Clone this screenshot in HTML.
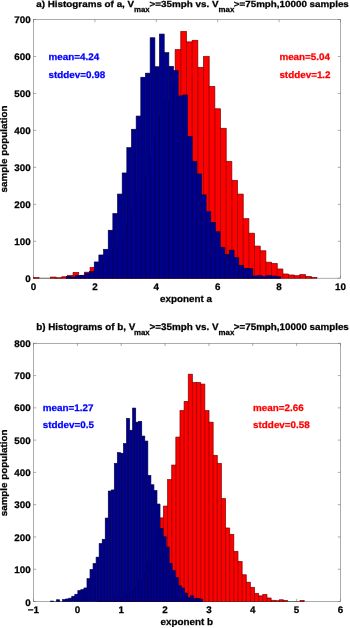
<!DOCTYPE html>
<html><head><meta charset="utf-8"><title>Histograms</title>
<style>html,body{margin:0;padding:0;background:#fff}svg{display:block}</style></head>
<body>
<svg width="350" height="628" viewBox="0 0 350 628" font-family="'Liberation Sans', sans-serif" font-weight="bold" text-rendering="geometricPrecision">
<rect width="350" height="628" fill="#fff"/>
<g stroke="#747474" stroke-width="0.6" fill="none"><rect x="33.5" y="19.5" width="307.0" height="258.7"/><path d="M33.50 278.2v-2.7M33.50 19.5v2.7"/><path d="M94.90 278.2v-2.7M94.90 19.5v2.7"/><path d="M156.30 278.2v-2.7M156.30 19.5v2.7"/><path d="M217.70 278.2v-2.7M217.70 19.5v2.7"/><path d="M279.10 278.2v-2.7M279.10 19.5v2.7"/><path d="M340.50 278.2v-2.7M340.50 19.5v2.7"/><path d="M33.5 278.20h2.7M340.5 278.20h-2.7"/><path d="M33.5 241.24h2.7M340.5 241.24h-2.7"/><path d="M33.5 204.29h2.7M340.5 204.29h-2.7"/><path d="M33.5 167.33h2.7M340.5 167.33h-2.7"/><path d="M33.5 130.37h2.7M340.5 130.37h-2.7"/><path d="M33.5 93.41h2.7M340.5 93.41h-2.7"/><path d="M33.5 56.46h2.7M340.5 56.46h-2.7"/><path d="M33.5 19.50h2.7M340.5 19.50h-2.7"/></g>
<g fill="#ff0000" stroke="#ff0000" stroke-width="0.5"><rect x="33.40" y="277.70" width="5.67" height="0.50"/><rect x="50.41" y="277.10" width="5.67" height="1.10"/><rect x="56.08" y="277.80" width="5.67" height="0.40"/><rect x="61.75" y="276.80" width="5.67" height="1.40"/><rect x="67.42" y="275.40" width="5.67" height="2.80"/><rect x="73.09" y="272.50" width="5.67" height="5.70"/><rect x="78.76" y="275.80" width="5.67" height="2.40"/><rect x="84.43" y="272.20" width="5.67" height="6.00"/><rect x="90.10" y="267.40" width="5.67" height="10.80"/><rect x="95.77" y="267.30" width="5.67" height="10.90"/><rect x="101.44" y="262.49" width="5.67" height="15.71"/><rect x="107.11" y="256.13" width="5.67" height="22.07"/><rect x="112.78" y="247.93" width="5.67" height="30.27"/><rect x="118.45" y="237.66" width="5.67" height="40.54"/><rect x="124.12" y="225.20" width="5.67" height="53.00"/><rect x="129.79" y="210.55" width="5.67" height="67.65"/><rect x="135.46" y="193.88" width="5.67" height="84.32"/><rect x="141.13" y="175.56" width="5.67" height="102.64"/><rect x="146.80" y="156.20" width="5.67" height="122.00"/><rect x="152.47" y="136.59" width="5.67" height="141.61"/><rect x="158.14" y="117.68" width="5.67" height="160.52"/><rect x="163.81" y="100.51" width="5.67" height="177.69"/><rect x="169.48" y="86.11" width="5.67" height="192.09"/><rect x="175.15" y="49.60" width="5.67" height="228.60"/><rect x="180.82" y="31.40" width="5.67" height="246.80"/><rect x="186.49" y="41.90" width="5.67" height="236.30"/><rect x="192.16" y="40.30" width="5.67" height="237.90"/><rect x="197.83" y="67.40" width="5.67" height="210.80"/><rect x="203.50" y="56.40" width="5.67" height="221.80"/><rect x="209.17" y="86.50" width="5.67" height="191.70"/><rect x="214.84" y="108.80" width="5.67" height="169.40"/><rect x="220.51" y="128.30" width="5.67" height="149.90"/><rect x="226.18" y="161.40" width="5.67" height="116.80"/><rect x="231.85" y="180.40" width="5.67" height="97.80"/><rect x="237.52" y="194.10" width="5.67" height="84.10"/><rect x="243.19" y="218.70" width="5.67" height="59.50"/><rect x="248.86" y="233.20" width="5.67" height="45.00"/><rect x="254.53" y="246.10" width="5.67" height="32.10"/><rect x="260.20" y="250.80" width="5.67" height="27.40"/><rect x="265.87" y="262.20" width="5.67" height="16.00"/><rect x="271.54" y="263.50" width="5.67" height="14.70"/><rect x="277.21" y="269.00" width="5.67" height="9.20"/><rect x="282.88" y="274.00" width="5.67" height="4.20"/><rect x="288.55" y="275.00" width="5.67" height="3.20"/><rect x="294.22" y="275.70" width="5.67" height="2.50"/><rect x="299.89" y="274.60" width="5.67" height="3.60"/><rect x="305.56" y="276.50" width="5.67" height="1.70"/><rect x="311.23" y="277.50" width="5.67" height="0.70"/></g><path d="M33.40 278.20V277.70M33.40 277.70h5.67M39.07 278.20V277.70M50.41 278.20V277.10M50.41 277.10h5.67M56.08 278.20V277.10M56.08 277.80h5.67M61.75 278.20V276.80M61.75 276.80h5.67M67.42 278.20V275.40M67.42 275.40h5.67M73.09 278.20V272.50M73.09 272.50h5.67M78.76 278.20V272.50M78.76 275.80h5.67M84.43 278.20V272.20M84.43 272.20h5.67M90.10 278.20V267.40M90.10 267.40h5.67M95.77 278.20V267.30M95.77 267.30h5.67M101.44 278.20V262.49M101.44 262.49h5.67M107.11 278.20V256.13M107.11 256.13h5.67M112.78 278.20V247.93M112.78 247.93h5.67M118.45 278.20V237.66M118.45 237.66h5.67M124.12 278.20V225.20M124.12 225.20h5.67M129.79 278.20V210.55M129.79 210.55h5.67M135.46 278.20V193.88M135.46 193.88h5.67M141.13 278.20V175.56M141.13 175.56h5.67M146.80 278.20V156.20M146.80 156.20h5.67M152.47 278.20V136.59M152.47 136.59h5.67M158.14 278.20V117.68M158.14 117.68h5.67M163.81 278.20V100.51M163.81 100.51h5.67M169.48 278.20V86.11M169.48 86.11h5.67M175.15 278.20V49.60M175.15 49.60h5.67M180.82 278.20V31.40M180.82 31.40h5.67M186.49 278.20V31.40M186.49 41.90h5.67M192.16 278.20V40.30M192.16 40.30h5.67M197.83 278.20V40.30M197.83 67.40h5.67M203.50 278.20V56.40M203.50 56.40h5.67M209.17 278.20V56.40M209.17 86.50h5.67M214.84 278.20V86.50M214.84 108.80h5.67M220.51 278.20V108.80M220.51 128.30h5.67M226.18 278.20V128.30M226.18 161.40h5.67M231.85 278.20V161.40M231.85 180.40h5.67M237.52 278.20V180.40M237.52 194.10h5.67M243.19 278.20V194.10M243.19 218.70h5.67M248.86 278.20V218.70M248.86 233.20h5.67M254.53 278.20V233.20M254.53 246.10h5.67M260.20 278.20V246.10M260.20 250.80h5.67M265.87 278.20V250.80M265.87 262.20h5.67M271.54 278.20V262.20M271.54 263.50h5.67M277.21 278.20V263.50M277.21 269.00h5.67M282.88 278.20V269.00M282.88 274.00h5.67M288.55 278.20V274.00M288.55 275.00h5.67M294.22 278.20V275.00M294.22 275.70h5.67M299.89 278.20V274.60M299.89 274.60h5.67M305.56 278.20V274.60M305.56 276.50h5.67M311.23 278.20V276.50M311.23 277.50h5.67M316.90 278.20V277.50M33.40 278.20H316.90" fill="none" stroke="#000" stroke-width="0.38"/>
<g fill="#00008f" stroke="#00008f" stroke-width="0.5"><rect x="66.30" y="276.60" width="4.66" height="1.60"/><rect x="70.96" y="277.10" width="4.66" height="1.10"/><rect x="75.62" y="275.70" width="4.66" height="2.50"/><rect x="80.28" y="275.30" width="4.66" height="2.90"/><rect x="84.94" y="273.20" width="4.66" height="5.00"/><rect x="89.60" y="271.70" width="4.66" height="6.50"/><rect x="94.26" y="262.00" width="4.66" height="16.20"/><rect x="98.92" y="255.00" width="4.66" height="23.20"/><rect x="103.58" y="249.40" width="4.66" height="28.80"/><rect x="108.24" y="230.30" width="4.66" height="47.90"/><rect x="112.90" y="213.60" width="4.66" height="64.60"/><rect x="117.56" y="194.10" width="4.66" height="84.10"/><rect x="122.22" y="173.00" width="4.66" height="105.20"/><rect x="126.88" y="147.70" width="4.66" height="130.50"/><rect x="131.54" y="129.30" width="4.66" height="148.90"/><rect x="136.20" y="116.10" width="4.66" height="162.10"/><rect x="140.86" y="77.30" width="4.66" height="200.90"/><rect x="145.52" y="73.20" width="4.66" height="205.00"/><rect x="150.18" y="37.80" width="4.66" height="240.40"/><rect x="154.84" y="66.80" width="4.66" height="211.40"/><rect x="159.50" y="34.10" width="4.66" height="244.10"/><rect x="164.16" y="52.70" width="4.66" height="225.50"/><rect x="168.82" y="66.40" width="4.66" height="211.80"/><rect x="173.48" y="70.70" width="4.66" height="207.50"/><rect x="178.14" y="96.00" width="4.66" height="182.20"/><rect x="182.80" y="95.00" width="4.66" height="183.20"/><rect x="187.46" y="136.60" width="4.66" height="141.60"/><rect x="192.12" y="161.40" width="4.66" height="116.80"/><rect x="196.78" y="174.00" width="4.66" height="104.20"/><rect x="201.44" y="194.90" width="4.66" height="83.30"/><rect x="206.10" y="211.70" width="4.66" height="66.50"/><rect x="210.76" y="222.50" width="4.66" height="55.70"/><rect x="215.42" y="231.80" width="4.66" height="46.40"/><rect x="220.08" y="247.30" width="4.66" height="30.90"/><rect x="224.74" y="254.60" width="4.66" height="23.60"/><rect x="229.40" y="250.20" width="4.66" height="28.00"/><rect x="234.06" y="257.70" width="4.66" height="20.50"/><rect x="238.72" y="265.30" width="4.66" height="12.90"/><rect x="243.38" y="268.40" width="4.66" height="9.80"/><rect x="248.04" y="268.60" width="4.66" height="9.60"/><rect x="252.70" y="276.10" width="4.66" height="2.10"/><rect x="257.36" y="275.70" width="4.66" height="2.50"/><rect x="262.02" y="276.70" width="4.66" height="1.50"/><rect x="266.68" y="275.70" width="4.66" height="2.50"/><rect x="271.34" y="276.10" width="4.66" height="2.10"/><rect x="276.00" y="276.80" width="4.66" height="1.40"/></g><path d="M66.30 278.20V276.60M66.30 276.60h4.66M70.96 278.20V276.60M70.96 277.10h4.66M75.62 278.20V275.70M75.62 275.70h4.66M80.28 278.20V275.30M80.28 275.30h4.66M84.94 278.20V273.20M84.94 273.20h4.66M89.60 278.20V271.70M89.60 271.70h4.66M94.26 278.20V262.00M94.26 262.00h4.66M98.92 278.20V255.00M98.92 255.00h4.66M103.58 278.20V249.40M103.58 249.40h4.66M108.24 278.20V230.30M108.24 230.30h4.66M112.90 278.20V213.60M112.90 213.60h4.66M117.56 278.20V194.10M117.56 194.10h4.66M122.22 278.20V173.00M122.22 173.00h4.66M126.88 278.20V147.70M126.88 147.70h4.66M131.54 278.20V129.30M131.54 129.30h4.66M136.20 278.20V116.10M136.20 116.10h4.66M140.86 278.20V77.30M140.86 77.30h4.66M145.52 278.20V73.20M145.52 73.20h4.66M150.18 278.20V37.80M150.18 37.80h4.66M154.84 278.20V37.80M154.84 66.80h4.66M159.50 278.20V34.10M159.50 34.10h4.66M164.16 278.20V34.10M164.16 52.70h4.66M168.82 278.20V52.70M168.82 66.40h4.66M173.48 278.20V66.40M173.48 70.70h4.66M178.14 278.20V70.70M178.14 96.00h4.66M182.80 278.20V95.00M182.80 95.00h4.66M187.46 278.20V95.00M187.46 136.60h4.66M192.12 278.20V136.60M192.12 161.40h4.66M196.78 278.20V161.40M196.78 174.00h4.66M201.44 278.20V174.00M201.44 194.90h4.66M206.10 278.20V194.90M206.10 211.70h4.66M210.76 278.20V211.70M210.76 222.50h4.66M215.42 278.20V222.50M215.42 231.80h4.66M220.08 278.20V231.80M220.08 247.30h4.66M224.74 278.20V247.30M224.74 254.60h4.66M229.40 278.20V250.20M229.40 250.20h4.66M234.06 278.20V250.20M234.06 257.70h4.66M238.72 278.20V257.70M238.72 265.30h4.66M243.38 278.20V265.30M243.38 268.40h4.66M248.04 278.20V268.40M248.04 268.60h4.66M252.70 278.20V268.60M252.70 276.10h4.66M257.36 278.20V275.70M257.36 275.70h4.66M262.02 278.20V275.70M262.02 276.70h4.66M266.68 278.20V275.70M266.68 275.70h4.66M271.34 278.20V275.70M271.34 276.10h4.66M276.00 278.20V276.10M276.00 276.80h4.66M280.66 278.20V276.80M66.30 278.20H280.66" fill="none" stroke="#000" stroke-width="0.38"/>
<text x="33.5" y="289.6" text-anchor="middle" fill="#000" stroke="#000" stroke-width="0.25" font-size="9.5" textLength="5.48" lengthAdjust="spacingAndGlyphs">0</text>
<text x="94.9" y="289.6" text-anchor="middle" fill="#000" stroke="#000" stroke-width="0.25" font-size="9.5" textLength="5.48" lengthAdjust="spacingAndGlyphs">2</text>
<text x="156.3" y="289.6" text-anchor="middle" fill="#000" stroke="#000" stroke-width="0.25" font-size="9.5" textLength="5.48" lengthAdjust="spacingAndGlyphs">4</text>
<text x="217.7" y="289.6" text-anchor="middle" fill="#000" stroke="#000" stroke-width="0.25" font-size="9.5" textLength="5.48" lengthAdjust="spacingAndGlyphs">6</text>
<text x="279.1" y="289.6" text-anchor="middle" fill="#000" stroke="#000" stroke-width="0.25" font-size="9.5" textLength="5.48" lengthAdjust="spacingAndGlyphs">8</text>
<text x="340.5" y="289.6" text-anchor="middle" fill="#000" stroke="#000" stroke-width="0.25" font-size="9.5" textLength="10.95" lengthAdjust="spacingAndGlyphs">10</text>
<text x="30.8" y="282.2" text-anchor="end" fill="#000" stroke="#000" stroke-width="0.25" font-size="9.5" textLength="5.48" lengthAdjust="spacingAndGlyphs">0</text>
<text x="30.8" y="244.7" text-anchor="end" fill="#000" stroke="#000" stroke-width="0.25" font-size="9.5" textLength="16.43" lengthAdjust="spacingAndGlyphs">100</text>
<text x="30.8" y="207.8" text-anchor="end" fill="#000" stroke="#000" stroke-width="0.25" font-size="9.5" textLength="16.43" lengthAdjust="spacingAndGlyphs">200</text>
<text x="30.8" y="170.8" text-anchor="end" fill="#000" stroke="#000" stroke-width="0.25" font-size="9.5" textLength="16.43" lengthAdjust="spacingAndGlyphs">300</text>
<text x="30.8" y="133.9" text-anchor="end" fill="#000" stroke="#000" stroke-width="0.25" font-size="9.5" textLength="16.43" lengthAdjust="spacingAndGlyphs">400</text>
<text x="30.8" y="96.9" text-anchor="end" fill="#000" stroke="#000" stroke-width="0.25" font-size="9.5" textLength="16.43" lengthAdjust="spacingAndGlyphs">500</text>
<text x="30.8" y="60.0" text-anchor="end" fill="#000" stroke="#000" stroke-width="0.25" font-size="9.5" textLength="16.43" lengthAdjust="spacingAndGlyphs">600</text>
<text x="30.8" y="23.0" text-anchor="end" fill="#000" stroke="#000" stroke-width="0.25" font-size="9.5" textLength="16.43" lengthAdjust="spacingAndGlyphs">700</text>
<text x="186" y="302" text-anchor="middle" fill="#000" stroke="#000" stroke-width="0.25" font-size="9.5" textLength="52.0" lengthAdjust="spacingAndGlyphs">exponent a</text>
<text transform="translate(7.3,149) rotate(-90)" text-anchor="middle" font-size="9.4" stroke="#000" stroke-width="0.25" textLength="86.8" lengthAdjust="spacingAndGlyphs">sample population</text>
<text x="48.5" y="59.9" text-anchor="start" fill="#0000ff" stroke="#0000ff" stroke-width="0.25" font-size="9.5" textLength="50.65" lengthAdjust="spacingAndGlyphs">mean=4.24</text>
<text x="48.5" y="78.1" text-anchor="start" fill="#0000ff" stroke="#0000ff" stroke-width="0.25" font-size="9.5" textLength="56.67" lengthAdjust="spacingAndGlyphs">stddev=0.98</text>
<text x="279.4" y="59.9" text-anchor="start" fill="#ff0000" stroke="#ff0000" stroke-width="0.25" font-size="9.5" textLength="50.65" lengthAdjust="spacingAndGlyphs">mean=5.04</text>
<text x="279.4" y="78.1" text-anchor="start" fill="#ff0000" stroke="#ff0000" stroke-width="0.25" font-size="9.5" textLength="51.19" lengthAdjust="spacingAndGlyphs">stddev=1.2</text>
<text x="36.2" y="7.0" text-anchor="start" fill="#000" stroke="#000" stroke-width="0.25" font-size="8.8" textLength="97.98" lengthAdjust="spacingAndGlyphs">a) Histograms of a, V</text><text x="133.9" y="11.9" text-anchor="start" fill="#000" stroke="#000" stroke-width="0.25" font-size="7.6" textLength="15.77" lengthAdjust="spacingAndGlyphs">max</text><text x="149.6" y="7.0" text-anchor="start" fill="#000" stroke="#000" stroke-width="0.25" font-size="8.8" textLength="68.99" lengthAdjust="spacingAndGlyphs">&gt;=35mph vs. V</text><text x="218.6" y="11.9" text-anchor="start" fill="#000" stroke="#000" stroke-width="0.25" font-size="7.6" textLength="15.77" lengthAdjust="spacingAndGlyphs">max</text><text x="233.8" y="7.0" text-anchor="start" fill="#000" stroke="#000" stroke-width="0.25" font-size="8.8" textLength="115.0" lengthAdjust="spacingAndGlyphs">&gt;=75mph,10000 samples</text>
<g stroke="#747474" stroke-width="0.6" fill="none"><rect x="33.5" y="343.3" width="307.0" height="258.2"/><path d="M33.50 601.5v-2.7M33.50 343.3v2.7"/><path d="M77.36 601.5v-2.7M77.36 343.3v2.7"/><path d="M121.21 601.5v-2.7M121.21 343.3v2.7"/><path d="M165.07 601.5v-2.7M165.07 343.3v2.7"/><path d="M208.93 601.5v-2.7M208.93 343.3v2.7"/><path d="M252.79 601.5v-2.7M252.79 343.3v2.7"/><path d="M296.64 601.5v-2.7M296.64 343.3v2.7"/><path d="M340.50 601.5v-2.7M340.50 343.3v2.7"/><path d="M33.5 601.50h2.7M340.5 601.50h-2.7"/><path d="M33.5 569.23h2.7M340.5 569.23h-2.7"/><path d="M33.5 536.95h2.7M340.5 536.95h-2.7"/><path d="M33.5 504.68h2.7M340.5 504.68h-2.7"/><path d="M33.5 472.40h2.7M340.5 472.40h-2.7"/><path d="M33.5 440.12h2.7M340.5 440.12h-2.7"/><path d="M33.5 407.85h2.7M340.5 407.85h-2.7"/><path d="M33.5 375.58h2.7M340.5 375.58h-2.7"/><path d="M33.5 343.30h2.7M340.5 343.30h-2.7"/></g>
<g fill="#ff0000" stroke="#ff0000" stroke-width="0.5"><rect x="97.20" y="601.31" width="4.14" height="0.19"/><rect x="101.34" y="601.16" width="4.14" height="0.34"/><rect x="105.48" y="600.91" width="4.14" height="0.59"/><rect x="109.62" y="600.49" width="4.14" height="1.01"/><rect x="113.76" y="599.81" width="4.14" height="1.69"/><rect x="117.90" y="598.74" width="4.14" height="2.76"/><rect x="122.04" y="597.14" width="4.14" height="4.36"/><rect x="126.18" y="594.77" width="4.14" height="6.73"/><rect x="130.32" y="591.39" width="4.14" height="10.11"/><rect x="134.46" y="586.71" width="4.14" height="14.79"/><rect x="138.60" y="580.42" width="4.14" height="21.08"/><rect x="142.74" y="572.26" width="4.14" height="29.24"/><rect x="146.88" y="561.99" width="4.14" height="39.51"/><rect x="151.02" y="549.51" width="4.14" height="51.99"/><rect x="155.16" y="534.87" width="4.14" height="66.63"/><rect x="159.30" y="517.90" width="4.14" height="83.60"/><rect x="163.44" y="506.10" width="4.14" height="95.40"/><rect x="167.58" y="479.60" width="4.14" height="121.90"/><rect x="171.72" y="465.10" width="4.14" height="136.40"/><rect x="175.86" y="437.10" width="4.14" height="164.40"/><rect x="180.00" y="410.60" width="4.14" height="190.90"/><rect x="184.14" y="401.50" width="4.14" height="200.00"/><rect x="188.28" y="374.20" width="4.14" height="227.30"/><rect x="192.42" y="382.50" width="4.14" height="219.00"/><rect x="196.56" y="382.50" width="4.14" height="219.00"/><rect x="200.70" y="384.10" width="4.14" height="217.40"/><rect x="204.84" y="410.60" width="4.14" height="190.90"/><rect x="208.98" y="422.20" width="4.14" height="179.30"/><rect x="213.12" y="455.40" width="4.14" height="146.10"/><rect x="217.26" y="463.40" width="4.14" height="138.10"/><rect x="221.40" y="498.60" width="4.14" height="102.90"/><rect x="225.54" y="528.00" width="4.14" height="73.50"/><rect x="229.68" y="534.40" width="4.14" height="67.10"/><rect x="233.82" y="551.40" width="4.14" height="50.10"/><rect x="237.96" y="561.50" width="4.14" height="40.00"/><rect x="242.10" y="574.80" width="4.14" height="26.70"/><rect x="246.24" y="582.20" width="4.14" height="19.30"/><rect x="250.38" y="587.40" width="4.14" height="14.10"/><rect x="254.52" y="593.40" width="4.14" height="8.10"/><rect x="258.66" y="595.90" width="4.14" height="5.60"/><rect x="262.80" y="594.50" width="4.14" height="7.00"/><rect x="266.94" y="598.00" width="4.14" height="3.50"/><rect x="271.08" y="600.30" width="4.14" height="1.20"/><rect x="275.22" y="600.70" width="4.14" height="0.80"/><rect x="279.36" y="599.80" width="4.14" height="1.70"/><rect x="283.50" y="600.50" width="4.14" height="1.00"/><rect x="300.06" y="600.50" width="4.14" height="1.00"/></g><path d="M97.20 601.50V601.31M97.20 601.31h4.14M101.34 601.50V601.16M101.34 601.16h4.14M105.48 601.50V600.91M105.48 600.91h4.14M109.62 601.50V600.49M109.62 600.49h4.14M113.76 601.50V599.81M113.76 599.81h4.14M117.90 601.50V598.74M117.90 598.74h4.14M122.04 601.50V597.14M122.04 597.14h4.14M126.18 601.50V594.77M126.18 594.77h4.14M130.32 601.50V591.39M130.32 591.39h4.14M134.46 601.50V586.71M134.46 586.71h4.14M138.60 601.50V580.42M138.60 580.42h4.14M142.74 601.50V572.26M142.74 572.26h4.14M146.88 601.50V561.99M146.88 561.99h4.14M151.02 601.50V549.51M151.02 549.51h4.14M155.16 601.50V534.87M155.16 534.87h4.14M159.30 601.50V517.90M159.30 517.90h4.14M163.44 601.50V506.10M163.44 506.10h4.14M167.58 601.50V479.60M167.58 479.60h4.14M171.72 601.50V465.10M171.72 465.10h4.14M175.86 601.50V437.10M175.86 437.10h4.14M180.00 601.50V410.60M180.00 410.60h4.14M184.14 601.50V401.50M184.14 401.50h4.14M188.28 601.50V374.20M188.28 374.20h4.14M192.42 601.50V374.20M192.42 382.50h4.14M196.56 601.50V382.50M196.56 382.50h4.14M200.70 601.50V382.50M200.70 384.10h4.14M204.84 601.50V384.10M204.84 410.60h4.14M208.98 601.50V410.60M208.98 422.20h4.14M213.12 601.50V422.20M213.12 455.40h4.14M217.26 601.50V455.40M217.26 463.40h4.14M221.40 601.50V463.40M221.40 498.60h4.14M225.54 601.50V498.60M225.54 528.00h4.14M229.68 601.50V528.00M229.68 534.40h4.14M233.82 601.50V534.40M233.82 551.40h4.14M237.96 601.50V551.40M237.96 561.50h4.14M242.10 601.50V561.50M242.10 574.80h4.14M246.24 601.50V574.80M246.24 582.20h4.14M250.38 601.50V582.20M250.38 587.40h4.14M254.52 601.50V587.40M254.52 593.40h4.14M258.66 601.50V593.40M258.66 595.90h4.14M262.80 601.50V594.50M262.80 594.50h4.14M266.94 601.50V594.50M266.94 598.00h4.14M271.08 601.50V598.00M271.08 600.30h4.14M275.22 601.50V600.30M275.22 600.70h4.14M279.36 601.50V599.80M279.36 599.80h4.14M283.50 601.50V599.80M283.50 600.50h4.14M287.64 601.50V600.50M300.06 601.50V600.50M300.06 600.50h4.14M304.20 601.50V600.50M97.20 601.50H304.20" fill="none" stroke="#000" stroke-width="0.38"/>
<g fill="#00008f" stroke="#00008f" stroke-width="0.5"><rect x="50.54" y="601.10" width="3.04" height="0.40"/><rect x="56.62" y="599.80" width="3.04" height="1.70"/><rect x="62.70" y="599.60" width="3.04" height="1.90"/><rect x="65.74" y="599.00" width="3.04" height="2.50"/><rect x="68.78" y="598.20" width="3.04" height="3.30"/><rect x="71.82" y="596.30" width="3.04" height="5.20"/><rect x="74.86" y="594.30" width="3.04" height="7.20"/><rect x="77.90" y="590.70" width="3.04" height="10.80"/><rect x="80.94" y="589.70" width="3.04" height="11.80"/><rect x="83.98" y="588.00" width="3.04" height="13.50"/><rect x="87.02" y="578.70" width="3.04" height="22.80"/><rect x="90.06" y="569.60" width="3.04" height="31.90"/><rect x="93.10" y="563.60" width="3.04" height="37.90"/><rect x="96.14" y="557.20" width="3.04" height="44.30"/><rect x="99.18" y="543.70" width="3.04" height="57.80"/><rect x="102.22" y="539.40" width="3.04" height="62.10"/><rect x="105.26" y="518.10" width="3.04" height="83.40"/><rect x="108.30" y="491.10" width="3.04" height="110.40"/><rect x="111.34" y="490.00" width="3.04" height="111.50"/><rect x="114.38" y="463.40" width="3.04" height="138.10"/><rect x="117.42" y="452.70" width="3.04" height="148.80"/><rect x="120.46" y="453.30" width="3.04" height="148.20"/><rect x="123.50" y="443.60" width="3.04" height="157.90"/><rect x="126.54" y="418.50" width="3.04" height="183.00"/><rect x="129.58" y="430.30" width="3.04" height="171.20"/><rect x="132.62" y="408.10" width="3.04" height="193.40"/><rect x="135.66" y="422.20" width="3.04" height="179.30"/><rect x="138.70" y="421.40" width="3.04" height="180.10"/><rect x="141.74" y="436.10" width="3.04" height="165.40"/><rect x="144.78" y="441.10" width="3.04" height="160.40"/><rect x="147.82" y="475.50" width="3.04" height="126.00"/><rect x="150.86" y="484.80" width="3.04" height="116.70"/><rect x="153.90" y="490.60" width="3.04" height="110.90"/><rect x="156.94" y="504.10" width="3.04" height="97.40"/><rect x="159.98" y="528.50" width="3.04" height="73.00"/><rect x="163.02" y="536.80" width="3.04" height="64.70"/><rect x="166.06" y="547.10" width="3.04" height="54.40"/><rect x="169.10" y="563.50" width="3.04" height="38.00"/><rect x="172.14" y="570.70" width="3.04" height="30.80"/><rect x="175.18" y="577.60" width="3.04" height="23.90"/><rect x="178.22" y="585.80" width="3.04" height="15.70"/><rect x="181.26" y="588.10" width="3.04" height="13.40"/><rect x="184.30" y="593.10" width="3.04" height="8.40"/><rect x="187.34" y="597.80" width="3.04" height="3.70"/><rect x="190.38" y="595.80" width="3.04" height="5.70"/><rect x="193.42" y="598.30" width="3.04" height="3.20"/><rect x="196.46" y="598.50" width="3.04" height="3.00"/><rect x="199.50" y="599.10" width="3.04" height="2.40"/></g><path d="M50.54 601.50V601.10M50.54 601.10h3.04M53.58 601.50V601.10M56.62 601.50V599.80M56.62 599.80h3.04M59.66 601.50V599.80M62.70 601.50V599.60M62.70 599.60h3.04M65.74 601.50V599.00M65.74 599.00h3.04M68.78 601.50V598.20M68.78 598.20h3.04M71.82 601.50V596.30M71.82 596.30h3.04M74.86 601.50V594.30M74.86 594.30h3.04M77.90 601.50V590.70M77.90 590.70h3.04M80.94 601.50V589.70M80.94 589.70h3.04M83.98 601.50V588.00M83.98 588.00h3.04M87.02 601.50V578.70M87.02 578.70h3.04M90.06 601.50V569.60M90.06 569.60h3.04M93.10 601.50V563.60M93.10 563.60h3.04M96.14 601.50V557.20M96.14 557.20h3.04M99.18 601.50V543.70M99.18 543.70h3.04M102.22 601.50V539.40M102.22 539.40h3.04M105.26 601.50V518.10M105.26 518.10h3.04M108.30 601.50V491.10M108.30 491.10h3.04M111.34 601.50V490.00M111.34 490.00h3.04M114.38 601.50V463.40M114.38 463.40h3.04M117.42 601.50V452.70M117.42 452.70h3.04M120.46 601.50V452.70M120.46 453.30h3.04M123.50 601.50V443.60M123.50 443.60h3.04M126.54 601.50V418.50M126.54 418.50h3.04M129.58 601.50V418.50M129.58 430.30h3.04M132.62 601.50V408.10M132.62 408.10h3.04M135.66 601.50V408.10M135.66 422.20h3.04M138.70 601.50V421.40M138.70 421.40h3.04M141.74 601.50V421.40M141.74 436.10h3.04M144.78 601.50V436.10M144.78 441.10h3.04M147.82 601.50V441.10M147.82 475.50h3.04M150.86 601.50V475.50M150.86 484.80h3.04M153.90 601.50V484.80M153.90 490.60h3.04M156.94 601.50V490.60M156.94 504.10h3.04M159.98 601.50V504.10M159.98 528.50h3.04M163.02 601.50V528.50M163.02 536.80h3.04M166.06 601.50V536.80M166.06 547.10h3.04M169.10 601.50V547.10M169.10 563.50h3.04M172.14 601.50V563.50M172.14 570.70h3.04M175.18 601.50V570.70M175.18 577.60h3.04M178.22 601.50V577.60M178.22 585.80h3.04M181.26 601.50V585.80M181.26 588.10h3.04M184.30 601.50V588.10M184.30 593.10h3.04M187.34 601.50V593.10M187.34 597.80h3.04M190.38 601.50V595.80M190.38 595.80h3.04M193.42 601.50V595.80M193.42 598.30h3.04M196.46 601.50V598.30M196.46 598.50h3.04M199.50 601.50V598.50M199.50 599.10h3.04M202.54 601.50V599.10M50.54 601.50H202.54" fill="none" stroke="#000" stroke-width="0.38"/>
<text x="33.5" y="613.2" text-anchor="middle" fill="#000" stroke="#000" stroke-width="0.25" font-size="9.5" textLength="11.23" lengthAdjust="spacingAndGlyphs">−1</text>
<text x="77.4" y="613.2" text-anchor="middle" fill="#000" stroke="#000" stroke-width="0.25" font-size="9.5" textLength="5.48" lengthAdjust="spacingAndGlyphs">0</text>
<text x="121.2" y="613.2" text-anchor="middle" fill="#000" stroke="#000" stroke-width="0.25" font-size="9.5" textLength="5.48" lengthAdjust="spacingAndGlyphs">1</text>
<text x="165.1" y="613.2" text-anchor="middle" fill="#000" stroke="#000" stroke-width="0.25" font-size="9.5" textLength="5.48" lengthAdjust="spacingAndGlyphs">2</text>
<text x="208.9" y="613.2" text-anchor="middle" fill="#000" stroke="#000" stroke-width="0.25" font-size="9.5" textLength="5.48" lengthAdjust="spacingAndGlyphs">3</text>
<text x="252.8" y="613.2" text-anchor="middle" fill="#000" stroke="#000" stroke-width="0.25" font-size="9.5" textLength="5.48" lengthAdjust="spacingAndGlyphs">4</text>
<text x="296.6" y="613.2" text-anchor="middle" fill="#000" stroke="#000" stroke-width="0.25" font-size="9.5" textLength="5.48" lengthAdjust="spacingAndGlyphs">5</text>
<text x="340.5" y="613.2" text-anchor="middle" fill="#000" stroke="#000" stroke-width="0.25" font-size="9.5" textLength="5.48" lengthAdjust="spacingAndGlyphs">6</text>
<text x="30.8" y="605.5" text-anchor="end" fill="#000" stroke="#000" stroke-width="0.25" font-size="9.5" textLength="5.48" lengthAdjust="spacingAndGlyphs">0</text>
<text x="30.8" y="572.7" text-anchor="end" fill="#000" stroke="#000" stroke-width="0.25" font-size="9.5" textLength="16.43" lengthAdjust="spacingAndGlyphs">100</text>
<text x="30.8" y="540.5" text-anchor="end" fill="#000" stroke="#000" stroke-width="0.25" font-size="9.5" textLength="16.43" lengthAdjust="spacingAndGlyphs">200</text>
<text x="30.8" y="508.2" text-anchor="end" fill="#000" stroke="#000" stroke-width="0.25" font-size="9.5" textLength="16.43" lengthAdjust="spacingAndGlyphs">300</text>
<text x="30.8" y="475.9" text-anchor="end" fill="#000" stroke="#000" stroke-width="0.25" font-size="9.5" textLength="16.43" lengthAdjust="spacingAndGlyphs">400</text>
<text x="30.8" y="443.6" text-anchor="end" fill="#000" stroke="#000" stroke-width="0.25" font-size="9.5" textLength="16.43" lengthAdjust="spacingAndGlyphs">500</text>
<text x="30.8" y="411.4" text-anchor="end" fill="#000" stroke="#000" stroke-width="0.25" font-size="9.5" textLength="16.43" lengthAdjust="spacingAndGlyphs">600</text>
<text x="30.8" y="379.1" text-anchor="end" fill="#000" stroke="#000" stroke-width="0.25" font-size="9.5" textLength="16.43" lengthAdjust="spacingAndGlyphs">700</text>
<text x="30.8" y="346.8" text-anchor="end" fill="#000" stroke="#000" stroke-width="0.25" font-size="9.5" textLength="16.43" lengthAdjust="spacingAndGlyphs">800</text>
<text x="186.7" y="625.4" text-anchor="middle" fill="#000" stroke="#000" stroke-width="0.25" font-size="9.5" textLength="52.54" lengthAdjust="spacingAndGlyphs">exponent b</text>
<text transform="translate(7.3,472.9) rotate(-90)" text-anchor="middle" font-size="9.4" stroke="#000" stroke-width="0.25" textLength="86.8" lengthAdjust="spacingAndGlyphs">sample population</text>
<text x="42.8" y="411" text-anchor="start" fill="#0000ff" stroke="#0000ff" stroke-width="0.25" font-size="9.5" textLength="50.65" lengthAdjust="spacingAndGlyphs">mean=1.27</text>
<text x="42.8" y="427.5" text-anchor="start" fill="#0000ff" stroke="#0000ff" stroke-width="0.25" font-size="9.5" textLength="51.19" lengthAdjust="spacingAndGlyphs">stddev=0.5</text>
<text x="253.1" y="411" text-anchor="start" fill="#ff0000" stroke="#ff0000" stroke-width="0.25" font-size="9.5" textLength="50.65" lengthAdjust="spacingAndGlyphs">mean=2.66</text>
<text x="253.1" y="427.5" text-anchor="start" fill="#ff0000" stroke="#ff0000" stroke-width="0.25" font-size="9.5" textLength="56.67" lengthAdjust="spacingAndGlyphs">stddev=0.58</text>
<text x="36.2" y="330.4" text-anchor="start" fill="#000" stroke="#000" stroke-width="0.25" font-size="9.5" textLength="99.06" lengthAdjust="spacingAndGlyphs">b) Histograms of b, V</text><text x="133.9" y="335.29999999999995" text-anchor="start" fill="#000" stroke="#000" stroke-width="0.25" font-size="7.6" textLength="15.77" lengthAdjust="spacingAndGlyphs">max</text><text x="149.6" y="330.4" text-anchor="start" fill="#000" stroke="#000" stroke-width="0.25" font-size="9.5" textLength="68.99" lengthAdjust="spacingAndGlyphs">&gt;=35mph vs. V</text><text x="218.6" y="335.29999999999995" text-anchor="start" fill="#000" stroke="#000" stroke-width="0.25" font-size="7.6" textLength="15.77" lengthAdjust="spacingAndGlyphs">max</text><text x="233.8" y="330.4" text-anchor="start" fill="#000" stroke="#000" stroke-width="0.25" font-size="9.5" textLength="115.0" lengthAdjust="spacingAndGlyphs">&gt;=75mph,10000 samples</text>
</svg>
</body></html>
